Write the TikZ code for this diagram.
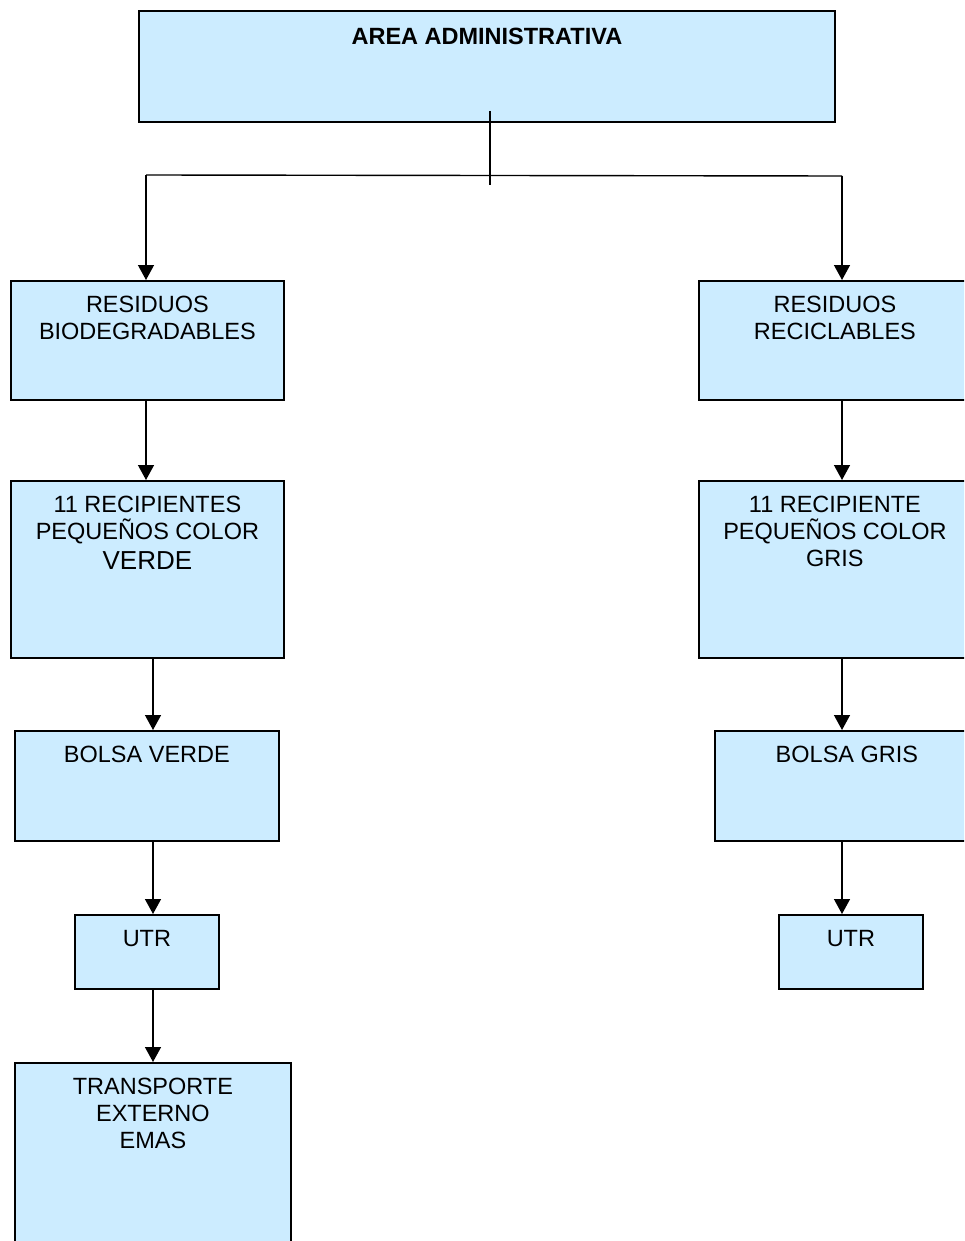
\documentclass[tikz,border=0pt]{standalone}
\usepackage{fontspec}
\setmainfont{Liberation Sans}
\usetikzlibrary{arrows.meta}
\definecolor{boxfill}{RGB}{204,236,255}
\begin{document}
\begin{tikzpicture}[x=1pt,y=-1pt,
  box/.style={draw=black, line width=1.8pt, fill=boxfill, rectangle,
    anchor=north west, inner sep=0pt},
  txt/.style={font=\fontsize{23.5}{27}\selectfont, align=center,
    anchor=north, inner sep=0pt, yshift=-16pt},
  link/.style={line width=1.4pt},
  arr/.style={link, -{Triangle[width=16pt,length=15pt]}}]
\useasboundingbox (0,0) rectangle (964,1241);
\clip (0,0) rectangle (964,1241);

% head of the chart
\node[box, minimum width=696, minimum height=111,
  label={[txt, font=\fontsize{23.5}{27}\selectfont\bfseries, yshift=-1.6pt]north:AREA ADMINISTRATIVA}]
  (adm) at (138,10) {};

% left column: biodegradable waste
\node[box, minimum width=273, minimum height=119,
  label={[txt]north:RESIDUOS\\BIODEGRADABLES}] (rb) at (10,280) {};
\node[box, minimum width=273, minimum height=177,
  label={[txt]north:11 RECIPIENTES\\PEQUEÑOS COLOR\\[3pt]{\fontsize{26}{30}\selectfont VERDE}}]
  (recl) at (10,480) {};
\node[box, minimum width=264, minimum height=110,
  label={[txt]north:BOLSA VERDE}] (bv) at (14,730) {};
\node[box, minimum width=144, minimum height=74,
  label={[txt]north:UTR}] (utrl) at (74,914) {};
\node[box, minimum width=276, minimum height=200,
  label={[txt]north:TRANSPORTE\\EXTERNO\\EMAS}] (tr) at (14,1062) {};

% right column: recyclable waste
\node[box, minimum width=272, minimum height=119,
  label={[txt]north:RESIDUOS\\RECICLABLES}] (rr) at (698,280) {};
\node[box, minimum width=272, minimum height=177,
  label={[txt]north:11 RECIPIENTE\\PEQUEÑOS COLOR\\GRIS}] (recr) at (698,480) {};
\node[box, minimum width=264, minimum height=110,
  label={[txt]north:BOLSA GRIS}] (bg) at (714,730) {};
\node[box, minimum width=144, minimum height=74,
  label={[txt]north:UTR}] (utrr) at (778,914) {};

% branching connector
\coordinate (drop) at (490,111);
\coordinate (stem) at (490,185);
\coordinate (jl) at (146,175);
\coordinate (jr) at (842,176);
\coordinate (xl) at (153,0);
\draw[link] (drop) -- (stem);
\draw[link] (jl) -- (jr);
\draw[arr] (jl) -- (jl |- rb.north);
\draw[arr] (jr) -- (jr |- rr.north);

% left chain
\draw[arr] (rb.south -| jl) -- (recl.north -| jl);
\draw[arr] (recl.south -| xl) -- (bv.north -| xl);
\draw[arr] (bv.south -| xl) -- (utrl.north -| xl);
\draw[arr] (utrl.south -| xl) -- (tr.north -| xl);

% right chain
\draw[arr] (rr.south -| jr) -- (recr.north -| jr);
\draw[arr] (recr.south -| jr) -- (bg.north -| jr);
\draw[arr] (bg.south -| jr) -- (utrr.north -| jr);
\end{tikzpicture}
\end{document}
